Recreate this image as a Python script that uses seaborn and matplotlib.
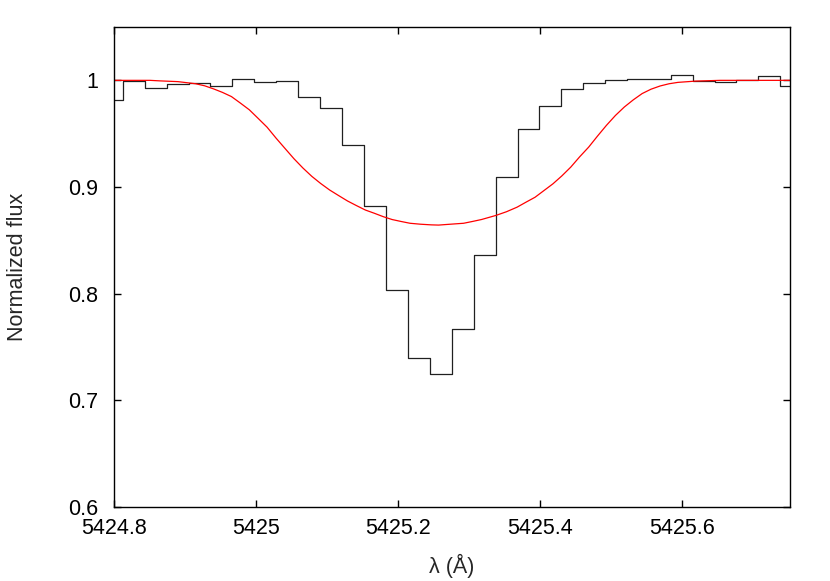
import matplotlib
matplotlib.use("Agg")
import matplotlib.pyplot as plt
import matplotlib.ticker as mticker
import seaborn as sns
import pandas as pd

# Espectro observado (centros dos pixels, Å) e fluxo normalizado
wavelength = [5424.797, 5424.828, 5424.859, 5424.890, 5424.920, 5424.951,
              5424.982, 5425.013, 5425.044, 5425.075, 5425.106, 5425.137,
              5425.167, 5425.198, 5425.229, 5425.260, 5425.291, 5425.322,
              5425.353, 5425.384, 5425.414, 5425.445, 5425.476, 5425.507,
              5425.538, 5425.569, 5425.600, 5425.631, 5425.661, 5425.692,
              5425.723, 5425.754]
flux = [0.982, 0.999, 0.993, 0.997, 0.9975, 0.9947, 1.0012, 0.998,
        0.999, 0.9847, 0.974, 0.939, 0.882, 0.803, 0.740, 0.7246,
        0.767, 0.836, 0.909, 0.9546, 0.976, 0.992, 0.9978, 1.000,
        1.001, 1.001, 1.005, 0.999, 0.998, 1.000, 1.0044, 0.995]

# Perfil do modelo (vermelho)
model_wl = [5424.8000, 5424.8507, 5424.8648, 5424.8900, 5424.9151, 5424.9276,
            5424.9403, 5424.9528, 5424.9654, 5424.9780, 5424.9906, 5425.0031,
            5425.0156, 5425.0283, 5425.0408, 5425.0535, 5425.0661, 5425.0786,
            5425.0911, 5425.1037, 5425.1163, 5425.1289, 5425.1414, 5425.1541,
            5425.1666, 5425.1792, 5425.1917, 5425.2042, 5425.2169, 5425.2320,
            5425.2470, 5425.2572, 5425.2672, 5425.2797, 5425.2924, 5425.3049,
            5425.3175, 5425.3376, 5425.3527, 5425.3677, 5425.3803, 5425.3930,
            5425.4056, 5425.4182, 5425.4307, 5425.4432, 5425.4558, 5425.4685,
            5425.4810, 5425.4935, 5425.5062, 5425.5187, 5425.5313, 5425.5438,
            5425.5563, 5425.5690, 5425.5817, 5425.5942, 5425.6193, 5425.6535,
            5425.7521]
model_flux = [1.0000, 1.0000, 0.9995, 0.9988, 0.9968, 0.9949,
              0.9920, 0.9887, 0.9848, 0.9787, 0.9724, 0.9643,
              0.9561, 0.9458, 0.9362, 0.9265, 0.9178, 0.9100,
              0.9033, 0.8972, 0.8920, 0.8869, 0.8826, 0.8784,
              0.8754, 0.8722, 0.8695, 0.8677, 0.8660, 0.8651,
              0.8645, 0.8643, 0.8648, 0.8654, 0.8660, 0.8677,
              0.8695, 0.8733, 0.8768, 0.8811, 0.8858, 0.8904,
              0.8967, 0.9030, 0.9104, 0.9186, 0.9283, 0.9374,
              0.9478, 0.9578, 0.9671, 0.9750, 0.9817, 0.9876,
              0.9917, 0.9947, 0.9968, 0.9981, 0.9993, 1.0000,
              1.0000]

obs = pd.DataFrame({'wl': wavelength, 'flux': flux})
mod = pd.DataFrame({'wl': model_wl, 'flux': model_flux})

sns.set_style('ticks')
plt.rcParams['font.family'] = ['Liberation Sans', 'DejaVu Sans']

fig = plt.figure(figsize=(8.3, 5.81), dpi=100)
ax = fig.add_axes([0.1373, 0.1274, 0.9518 - 0.1373, 0.9535 - 0.1274])

sns.lineplot(data=obs, x='wl', y='flux', ax=ax, color='#202020', linewidth=0.9,
             drawstyle='steps-mid', estimator=None, sort=False)
sns.lineplot(data=mod, x='wl', y='flux', ax=ax, color='red', linewidth=0.9,
             estimator=None, sort=False)

ax.set_xlim(5424.8, 5425.752)
ax.set_ylim(0.6, 1.05)
ax.set_xticks([5424.8, 5425.0, 5425.2, 5425.4, 5425.6])
ax.set_yticks([0.6, 0.7, 0.8, 0.9, 1.0])
fmt = mticker.FuncFormatter(lambda v, p: '%g' % round(v, 4))
ax.xaxis.set_major_formatter(fmt)
ax.yaxis.set_major_formatter(fmt)
ax.tick_params(direction='in', length=5, width=1, top=True, right=True,
               labelsize=15.5, colors='black')
ax.tick_params(axis='x', pad=8)
ax.tick_params(axis='y', pad=11.5)
for s in ax.spines.values():
    s.set_visible(True)
    s.set_linewidth(1.0)
    s.set_color('black')

ax.set_xlabel('λ (Å)', fontsize=15.5, va='center')
ax.set_ylabel('Normalized flux', fontsize=15.5, va='center')
ax.xaxis.set_label_coords(0.5, -0.123)
ax.yaxis.set_label_coords(-0.142, 0.5)

fig.savefig('out.png', dpi=100)
